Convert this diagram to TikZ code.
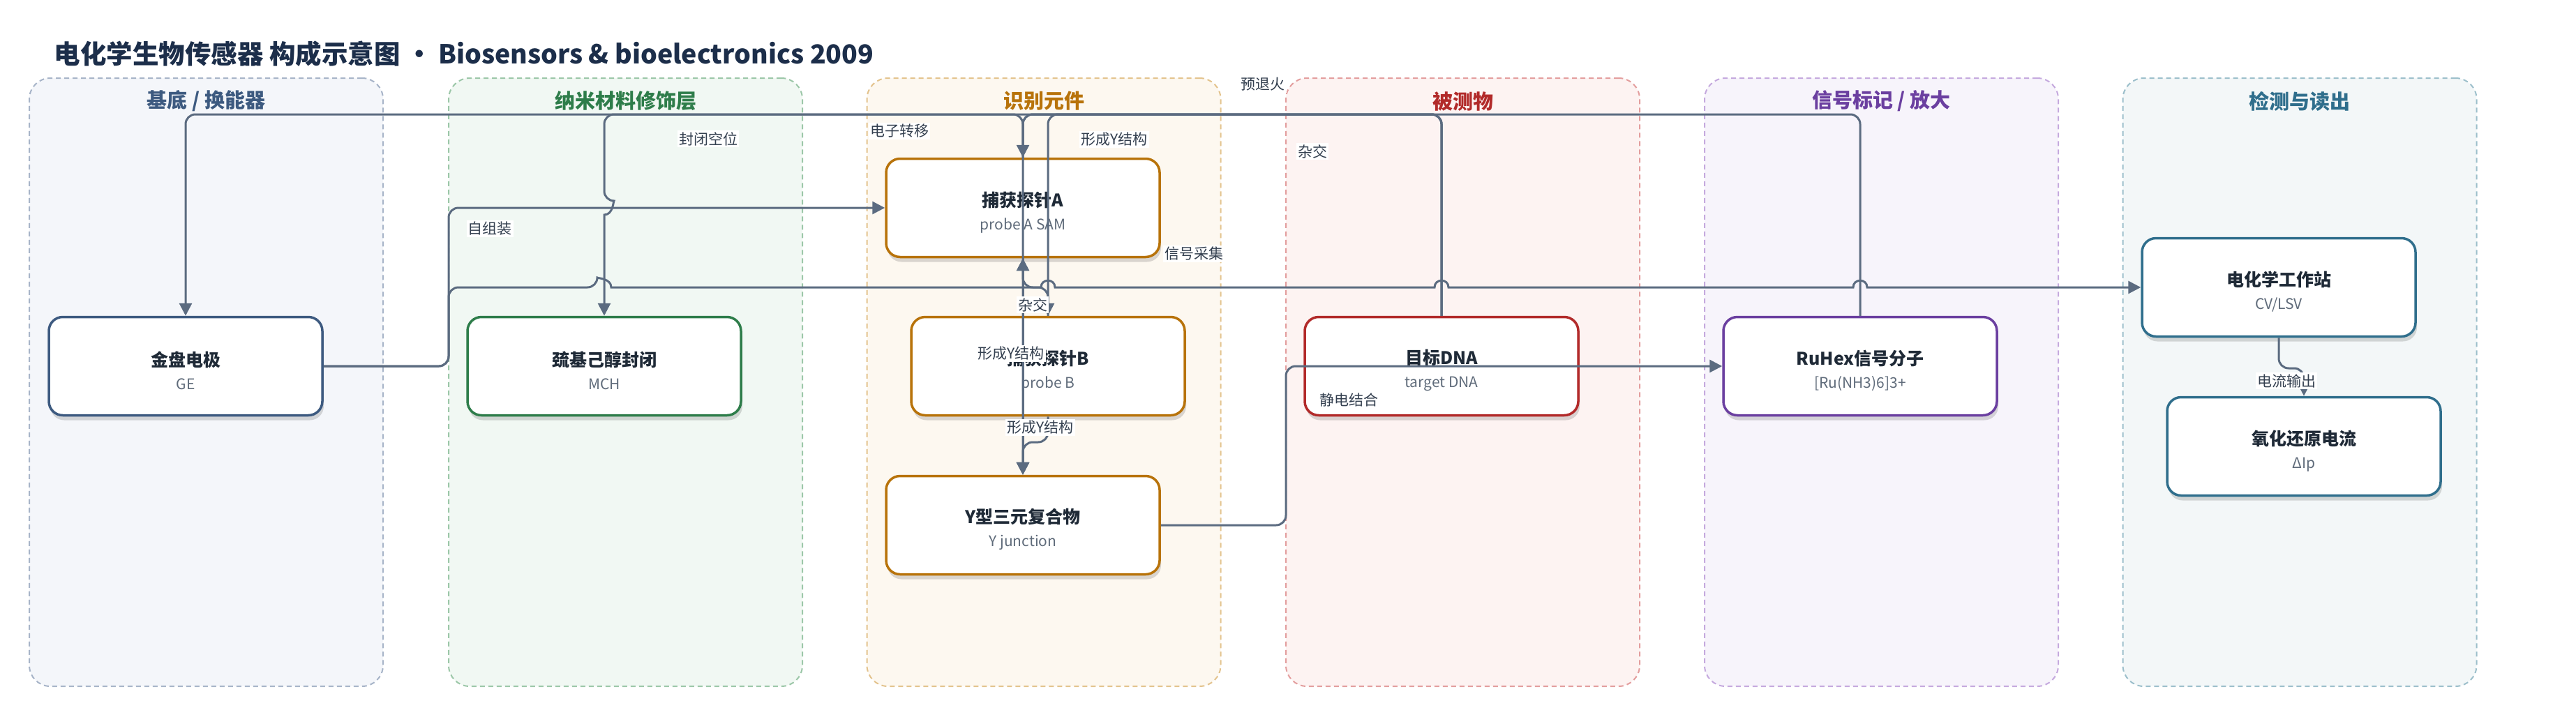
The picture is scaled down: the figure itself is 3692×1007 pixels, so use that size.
\documentclass[tikz,border=0pt]{standalone}
\usepackage{fontspec}
\setmainfont{Noto Sans CJK SC}
\usetikzlibrary{arrows.meta,shadows}
\definecolor{ink}{HTML}{1F2A37}
\definecolor{titlec}{HTML}{1C2E4A}
\definecolor{sub}{HTML}{5F6B7A}
\definecolor{edgec}{HTML}{5B6B80}
\definecolor{lblc}{HTML}{333F4F}
\definecolor{fA}{HTML}{F4F6FA}\definecolor{bA}{HTML}{A7B4C8}\definecolor{cA}{HTML}{3D5A80}
\definecolor{fB}{HTML}{F1F8F3}\definecolor{bB}{HTML}{9CC7A8}\definecolor{cB}{HTML}{2E7D4A}
\definecolor{fC}{HTML}{FDF8F0}\definecolor{bC}{HTML}{E3C38D}\definecolor{cC}{HTML}{B8730A}
\definecolor{fD}{HTML}{FDF3F2}\definecolor{bD}{HTML}{E39E9E}\definecolor{cD}{HTML}{B22A2A}
\definecolor{fE}{HTML}{F7F4FB}\definecolor{bE}{HTML}{C5A9DE}\definecolor{cE}{HTML}{6B3FA0}
\definecolor{fF}{HTML}{F3F7F8}\definecolor{bF}{HTML}{9CBFCB}\definecolor{cF}{HTML}{2F6E8C}
\newcommand{\ntxt}[2]{{\fontsize{25pt}{30pt}\selectfont\bfseries\color{ink}\rule{0pt}{34pt}#1}\\[3pt]{\fontsize{21pt}{26pt}\selectfont\color{sub}#2}}
\begin{document}
\begin{tikzpicture}[x=1pt,y=-1pt,
  lane/.style 2 args={draw=#1,fill=#2,line width=2pt,dash pattern=on 7pt off 5pt,rounded corners=30pt,minimum width=507pt,minimum height=872pt,inner sep=0pt},
  lanetitle/.style={font=\fontsize{29pt}{34pt}\selectfont\bfseries,text=#1},
  box/.style={draw=#1,fill=white,line width=3.5pt,rounded corners=20pt,minimum width=392pt,minimum height=141pt,inner sep=0pt,align=center,font=\fontsize{21pt}{30pt}\selectfont,
    drop shadow={shadow xshift=2pt,shadow yshift=-7pt,fill=black,opacity=0.14}},
  edge/.style={draw=edgec,line width=3pt,rounded corners=14pt},
  arr/.style={edge,-{Triangle[length=18pt,width=18pt]}},
  lbl/.style={fill=white,inner sep=2pt,text=lblc,font=\fontsize{21pt}{24pt}\selectfont}
]
\useasboundingbox (0,0) rectangle (3692,1007);
\node[anchor=west,text=titlec,font=\fontsize{37.5pt}{42pt}\selectfont\bfseries] (title) at (74,77) {电化学生物传感器 构成示意图 · Biosensors \& bioelectronics 2009};
% lanes
\node[lane={bA}{fA}] (L1) at (295.5,548) {};
\node[lane={bB}{fB}] (L2) at (896.5,548) {};
\node[lane={bC}{fC}] (L3) at (1496,548) {};
\node[lane={bD}{fD}] (L4) at (2096.5,548) {};
\node[lane={bE}{fE}] (L5) at (2696.5,548) {};
\node[lane={bF}{fF}] (L6) at (3296,548) {};
\node[lanetitle=cA] (T1) at (295.5,145) {基底 / 换能器};
\node[lanetitle=cB] (T2) at (896.5,145) {纳米材料修饰层};
\node[lanetitle=cC] (T3) at (1496,145) {识别元件};
\node[lanetitle=cD] (T4) at (2096.5,145) {被测物};
\node[lanetitle=cE] (T5) at (2696.5,145) {信号标记 / 放大};
\node[lanetitle=cF] (T6) at (3296,145) {检测与读出};
% nodes
\node[box=cA] (ge) at (266,525) {\ntxt{金盘电极}{GE}};
\node[box=cB] (mch) at (866,525) {\ntxt{巯基己醇封闭}{MCH}};
\node[box=cC] (pa) at (1466,298) {\ntxt{捕获探针A}{probe A SAM}};
\node[box=cC] (pb) at (1502,525) {\ntxt{捕获探针B}{probe B}};
\node[box=cC] (yj) at (1466,753) {\ntxt{Y型三元复合物}{Y junction}};
\node[box=cD] (tg) at (2066,525) {\ntxt{目标DNA}{target DNA}};
\node[box=cE] (rh) at (2666,525) {\ntxt{RuHex信号分子}{[Ru(NH3)6]3+}};
\node[box=cF] (ws) at (3266,412) {\ntxt{电化学工作站}{CV/LSV}};
\node[box=cF] (cur) at (3302,640) {\ntxt{氧化还原电流}{ΔIp}};
% edges
\draw[arr] (ge.east) -- (643,525) -- (643,298) -- (pa.west);
\draw[arr] (pa.north) -- (1466,164) -- (866,164) -- (866,288) [sharp corners] .. controls (879,288) and (879,308) .. (866,308) -- (mch.north);
\draw[arr] (tg.north) -- (2066,164) -- (1466,164) -- (yj.north);
\draw[arr] (tg.north) -- (2066,164) -- (1466,164) -- (pa.north);
\draw[arr] (tg.north) -- (2066,164) -- (1502,164) -- (pb.north);
\draw[arr] (pb.north) -- (1502,412) -- (1466,412) -- (pa.south);
\draw[arr] (pa.south) -- (yj.north);
\draw[arr] (pb.south) -- (1502,634) -- (1466,634) -- (yj.north);
\draw[arr] (rh.north) -- (2666,164) -- (266,164) -- (ge.north);
\draw[arr] (ge.east) -- (643,525) -- (643,412) -- (856,412) [sharp corners]
  .. controls (856,399) and (876,399) .. (876,412) -- (1492,412)
  .. controls (1492,399) and (1512,399) .. (1512,412) -- (2056,412)
  .. controls (2056,399) and (2076,399) .. (2076,412) -- (2656,412)
  .. controls (2656,399) and (2676,399) .. (2676,412) -- (ws.west);
\draw[arr] (yj.east) -- (1843,753) -- (1843,525) -- (rh.west);
\draw[arr] (ws.south) -- (3266,528) -- (3302,528) -- (cur.north);
% labels
\node[lbl] (l1) at (702,328) {自组装};
\node[lbl] (l2) at (1015,199) {封闭空位};
\node[lbl] (l3) at (1881,217) {杂交};
\node[lbl] (l4) at (1810,121) {预退火};
\node[lbl] (l5) at (1597,200) {形成Y结构};
\node[lbl] (l6) at (1480,437) {杂交};
\node[lbl] (l7) at (1449,507) {形成Y结构};
\node[lbl] (l8) at (1491,613) {形成Y结构};
\node[lbl] (l9) at (1289,188) {电子转移};
\node[lbl] (l10) at (1711,364) {信号采集};
\node[lbl] (l11) at (1933,573) {静电结合};
\node[lbl] (l12) at (3277,546) {电流输出};
\end{tikzpicture}
\end{document}
